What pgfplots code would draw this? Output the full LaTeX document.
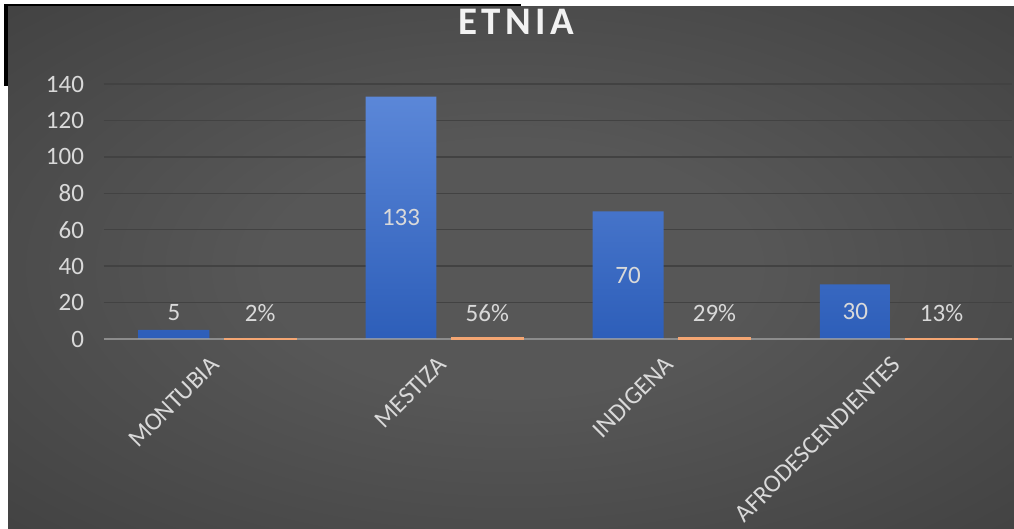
\documentclass[border=0pt]{standalone}
\usepackage{pgfplots}
\pgfplotsset{compat=1.18}
\usepackage{pgfplotstable}
\usepackage{fontspec}
\setmainfont{Carlito}
\definecolor{bginner}{HTML}{575757}
\definecolor{bgouter}{HTML}{232323}
\pgfdeclareradialshading{bgshade}{\pgfpoint{0bp}{0bp}}{color(0bp)=(bginner); color(12bp)=(bginner); color(72bp)=(bgouter)}
\definecolor{barblueT}{HTML}{5B87D8}
\definecolor{barblueB}{HTML}{2D5EB9}
\definecolor{barorange}{HTML}{F4A673}
\definecolor{txt}{HTML}{D9D9D9}
\definecolor{gridc}{HTML}{424242}
\definecolor{axisc}{HTML}{A6A6A6}

\pgfplotstableread{
x bx ox blue share pct bly oly
0 -0.19 0.19 5   0.02 2  14.3 14.3
1 0.81  1.19 133 0.56 56 66.5 14.3
2 1.81  2.19 70  0.29 29 35   14.3
3 2.81  3.19 30  0.13 13 15   14.3
}\datatable

\begin{document}
\begin{tikzpicture}[x=1pt,y=1pt]
  \useasboundingbox (0,0) rectangle (1014,529);
  % frame and background
  \fill[black] (4,443) rectangle (521,525);
  \shade[shading=bgshade] (8,0) rectangle (1014,522);
  \node[anchor=base, text=white!95!black, font=\fontsize{39}{44}\selectfont\bfseries] at (516.4,494)
    {E\kern4.5pt T\kern4.5pt N\kern4.5pt I\kern4.5pt A};
  \begin{axis}[
    at={(103.5pt,190pt)}, anchor=south west,
    scale only axis, width=908.5pt, height=255pt,
    xmin=-0.5, xmax=3.5, ymin=0, ymax=140,
    ytick={0,20,...,140},
    xtick={0,1,2,3},
    xticklabels={MONTUBIA,MESTIZA,INDIGENA,AFRODESCENDIENTES},
    axis x line*=bottom, axis y line*=left,
    x axis line style={draw=none},
    y axis line style={draw=none},
    major tick length=0pt,
    ymajorgrids, grid style={gridc, line width=1.5pt},
    ticklabel style={font=\fontsize{25}{29}\selectfont, text=txt},
    yticklabel style={xshift=-16pt},
    xticklabel style={xshift=-8pt, yshift=-11pt, rotate=45, anchor=north east},
    /pgf/number format/assume math mode=true,
    clip=false,
  ]
    \addplot[ybar, bar width=0.312, bar shift=0, draw=none, top color=barblueT, bottom color=barblueB]
      table[x=bx, y=blue]{\datatable};
    \draw[axisc, opacity=0.75, line width=1.5pt] (rel axis cs:0,0) -- (rel axis cs:1,0);
    \addplot[ybar, bar width=0.312, bar shift=0, draw=barorange, fill=barorange, line width=2.5pt]
      table[x=ox, y=share]{\datatable};
    \addplot[only marks, mark=none, point meta=explicit,
      nodes near coords={\pgfmathprintnumber[fixed,precision=0]{\pgfplotspointmeta}},
      every node near coord/.append style={anchor=center, font=\fontsize{25}{29}\selectfont, text=txt}]
      table[x=bx, y=bly, meta=blue]{\datatable};
    \addplot[only marks, mark=none, point meta=explicit,
      nodes near coords={\pgfmathprintnumber[fixed,precision=0]{\pgfplotspointmeta}\%},
      every node near coord/.append style={anchor=center, font=\fontsize{25}{29}\selectfont, text=txt}]
      table[x=ox, y=oly, meta=pct]{\datatable};
  \end{axis}
\end{tikzpicture}
\end{document}
